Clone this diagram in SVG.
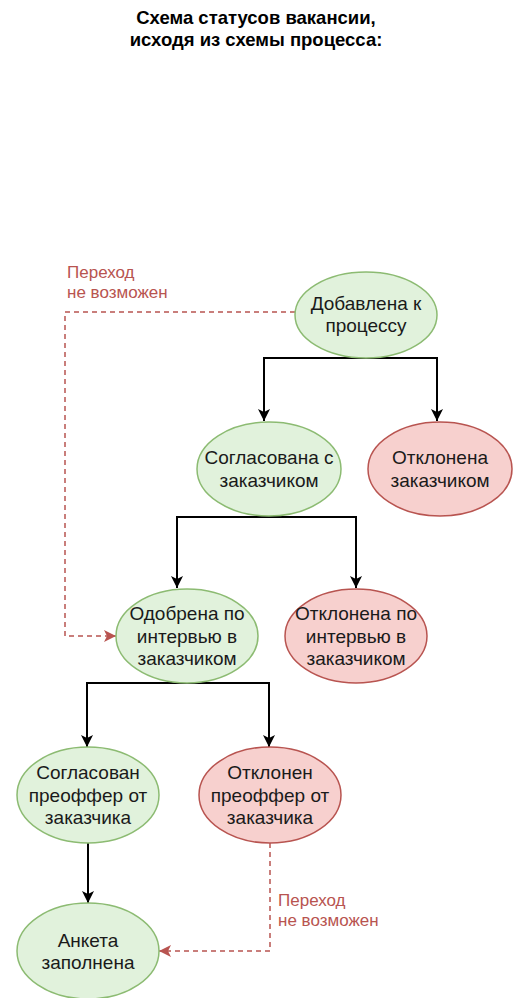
<svg xmlns="http://www.w3.org/2000/svg" width="516" height="998" viewBox="0 0 516 998">
<style>
  .g { fill: #e1f2dc; stroke: #8cbb72; stroke-width: 1.5; }
  .r { fill: #f7d0ce; stroke: #b85450; stroke-width: 1.5; }
  .t { font-family: "Liberation Sans", Arial, sans-serif; font-size: 19px; fill: #1a1a1a; text-anchor: middle; }
  .title { font-family: "Liberation Sans", Arial, sans-serif; font-size: 18.5px; font-weight: bold; fill: #000; text-anchor: middle; }
  .lbl { font-family: "Liberation Sans", Arial, sans-serif; font-size: 17px; fill: #b85450; }
  .c { fill: none; stroke: #000; stroke-width: 2; marker-end: url(#ab); }
  .d { fill: none; stroke: #b85450; stroke-width: 1.5; stroke-dasharray: 5 4; marker-end: url(#ar); }
</style>
<defs>
  <marker id="ab" viewBox="0 0 12 12" refX="12" refY="6" markerWidth="12" markerHeight="12" markerUnits="userSpaceOnUse" orient="auto">
    <path d="M0,0 L12,6 L0,12 L3,6 z" fill="#000"/>
  </marker>
  <marker id="ar" viewBox="0 0 12 12" refX="12" refY="6" markerWidth="12" markerHeight="12" markerUnits="userSpaceOnUse" orient="auto">
    <path d="M0,0 L12,6 L0,12 L3,6 z" fill="#b85450"/>
  </marker>
</defs>
<rect width="516" height="998" fill="#fff"/>
<g id="title">
  <text class="title" x="256" y="24">Схема статусов вакансии,</text>
  <text class="title" x="256" y="46">исходя из схемы процесса:</text>
</g>
<g id="connectors">
  <path class="c" d="M366,358 H264 V421"/>
  <path class="c" d="M366,358 H437 V421"/>
  <path class="c" d="M269,517 H177 V588"/>
  <path class="c" d="M269,517 H356 V588"/>
  <path class="c" d="M187,683 H87 V747"/>
  <path class="c" d="M187,683 H269 V747"/>
  <path class="c" d="M88,843 V903"/>
  <path class="d" d="M295,312 H65 V636 H116"/>
  <path class="d" d="M270,843 V951 H159"/>
</g>
<g id="label1">
  <text class="lbl" x="67" y="278">Переход</text>
  <text class="lbl" x="67" y="298">не возможен</text>
</g>
<g id="label2">
  <text class="lbl" x="278" y="906">Переход</text>
  <text class="lbl" x="278" y="926">не возможен</text>
</g>
<g id="n1">
  <ellipse class="g" cx="366" cy="315" rx="71" ry="43"/>
  <text class="t" x="366" y="310">Добавлена к</text>
  <text class="t" x="366" y="332">процессу</text>
</g>
<g id="n2">
  <ellipse class="g" cx="269" cy="469" rx="72" ry="47"/>
  <text class="t" x="269" y="464">Согласована с</text>
  <text class="t" x="269" y="487">заказчиком</text>
</g>
<g id="n3">
  <ellipse class="r" cx="440" cy="469" rx="72" ry="47"/>
  <text class="t" x="440" y="464">Отклонена</text>
  <text class="t" x="440" y="487">заказчиком</text>
</g>
<g id="n4">
  <ellipse class="g" cx="187" cy="636" rx="71" ry="47"/>
  <text class="t" x="187" y="620">Одобрена по</text>
  <text class="t" x="187" y="643">интервью в</text>
  <text class="t" x="187" y="665">заказчиком</text>
</g>
<g id="n5">
  <ellipse class="r" cx="356" cy="636" rx="71" ry="47"/>
  <text class="t" x="356" y="620">Отклонена по</text>
  <text class="t" x="356" y="643">интервью в</text>
  <text class="t" x="356" y="665">заказчиком</text>
</g>
<g id="n6">
  <ellipse class="g" cx="88" cy="795" rx="71" ry="48"/>
  <text class="t" x="88" y="779">Согласован</text>
  <text class="t" x="88" y="802">преоффер от</text>
  <text class="t" x="88" y="824">заказчика</text>
</g>
<g id="n7">
  <ellipse class="r" cx="270" cy="795" rx="71" ry="48"/>
  <text class="t" x="270" y="779">Отклонен</text>
  <text class="t" x="270" y="802">преоффер от</text>
  <text class="t" x="270" y="824">заказчика</text>
</g>
<g id="n8">
  <ellipse class="g" cx="88" cy="951" rx="71" ry="48"/>
  <text class="t" x="88" y="947">Анкета</text>
  <text class="t" x="88" y="969">заполнена</text>
</g>
</svg>
